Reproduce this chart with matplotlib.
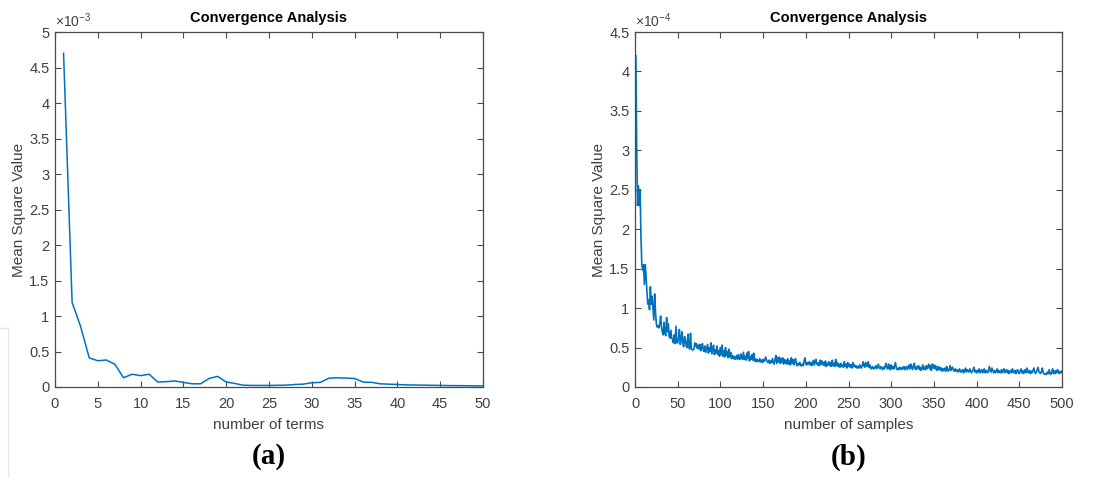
import matplotlib
matplotlib.use("Agg")
import matplotlib.pyplot as plt
from matplotlib.lines import Line2D
from matplotlib.ticker import FuncFormatter

# ---------------------------------------------------------------- data
# (a) mean square value vs number of series terms, values in units of 1e-3
terms = list(range(1, 51))
mse_terms_e3 = [
    4.70, 1.19, 0.85, 0.41, 0.37, 0.38, 0.32, 0.13, 0.18, 0.16,
    0.18, 0.07, 0.075, 0.085, 0.065, 0.045, 0.045, 0.12, 0.15, 0.07,
    0.05, 0.025, 0.022, 0.022, 0.022, 0.024, 0.026, 0.035, 0.04, 0.06,
    0.065, 0.125, 0.13, 0.125, 0.12, 0.07, 0.065, 0.045, 0.04, 0.035,
    0.03, 0.028, 0.026, 0.024, 0.022, 0.02, 0.019, 0.018, 0.016, 0.015,
]

# (b) mean square value vs number of samples, values in units of 1e-4
mse_samples_e4 = [
    4.20, 3.00, 2.30, 2.55, 2.30, 2.50, 1.90, 1.55, 1.48, 1.55, 1.30, 1.55, 1.40, 1.20, 1.05, 1.10, 0.98, 1.27, 1.05, 1.15,
    1.00, 0.85, 1.18, 0.95, 0.80, 0.76, 0.78, 0.75, 0.80, 0.90, 0.76, 0.70, 0.66, 0.82, 0.68, 0.65, 0.88, 0.70, 0.80, 0.64,
    0.62, 0.72, 0.62, 0.60, 0.56, 0.66, 0.55, 0.77, 0.56, 0.56, 0.62, 0.73, 0.54, 0.60, 0.70, 0.55, 0.51, 0.64, 0.60, 0.52,
    0.50, 0.67, 0.51, 0.48, 0.68, 0.49, 0.47, 0.47, 0.48, 0.56, 0.52, 0.55, 0.49, 0.53, 0.48, 0.54, 0.46, 0.50, 0.55, 0.47,
    0.45, 0.52, 0.44, 0.49, 0.54, 0.43, 0.50, 0.45, 0.56, 0.42, 0.48, 0.53, 0.41, 0.47, 0.43, 0.52, 0.41, 0.46, 0.39, 0.50,
    0.41, 0.53, 0.39, 0.46, 0.38, 0.50, 0.40, 0.45, 0.37, 0.48, 0.38, 0.44, 0.36, 0.40, 0.36, 0.39, 0.35, 0.37, 0.40, 0.35,
    0.41, 0.36, 0.35, 0.42, 0.37, 0.35, 0.44, 0.35, 0.39, 0.34, 0.43, 0.36, 0.45, 0.33, 0.39, 0.35, 0.41, 0.34, 0.43, 0.33,
    0.36, 0.32, 0.35, 0.33, 0.32, 0.36, 0.32, 0.34, 0.31, 0.35, 0.32, 0.34, 0.38, 0.34, 0.32, 0.31, 0.34, 0.30, 0.33, 0.31,
    0.36, 0.31, 0.29, 0.35, 0.40, 0.30, 0.37, 0.32, 0.38, 0.30, 0.36, 0.31, 0.37, 0.29, 0.35, 0.30, 0.34, 0.29, 0.36, 0.29,
    0.33, 0.28, 0.37, 0.30, 0.35, 0.28, 0.33, 0.36, 0.29, 0.27, 0.30, 0.28, 0.31, 0.27, 0.27, 0.29, 0.27, 0.33, 0.37, 0.29,
    0.28, 0.31, 0.29, 0.32, 0.28, 0.31, 0.27, 0.30, 0.34, 0.28, 0.32, 0.35, 0.29, 0.28, 0.31, 0.27, 0.34, 0.29, 0.33, 0.28,
    0.31, 0.27, 0.33, 0.26, 0.30, 0.28, 0.32, 0.27, 0.31, 0.26, 0.34, 0.27, 0.30, 0.26, 0.35, 0.27, 0.31, 0.26, 0.29, 0.25,
    0.30, 0.26, 0.28, 0.25, 0.32, 0.26, 0.29, 0.24, 0.31, 0.26, 0.29, 0.25, 0.28, 0.24, 0.31, 0.26, 0.28, 0.25, 0.27, 0.24,
    0.26, 0.24, 0.28, 0.25, 0.24, 0.27, 0.32, 0.27, 0.25, 0.31, 0.28, 0.26, 0.32, 0.25, 0.28, 0.24, 0.23, 0.26, 0.24, 0.23,
    0.25, 0.27, 0.23, 0.26, 0.29, 0.24, 0.23, 0.26, 0.24, 0.22, 0.25, 0.23, 0.27, 0.30, 0.24, 0.23, 0.29, 0.24, 0.22, 0.28,
    0.23, 0.26, 0.23, 0.27, 0.31, 0.24, 0.22, 0.24, 0.22, 0.25, 0.23, 0.22, 0.25, 0.23, 0.26, 0.22, 0.24, 0.26, 0.22, 0.25,
    0.28, 0.23, 0.29, 0.25, 0.22, 0.27, 0.30, 0.23, 0.22, 0.26, 0.24, 0.27, 0.22, 0.25, 0.21, 0.24, 0.28, 0.22, 0.25, 0.22,
    0.27, 0.23, 0.26, 0.29, 0.23, 0.27, 0.21, 0.29, 0.24, 0.28, 0.23, 0.27, 0.22, 0.21, 0.26, 0.22, 0.25, 0.21, 0.24, 0.20,
    0.23, 0.21, 0.24, 0.20, 0.26, 0.21, 0.20, 0.23, 0.27, 0.21, 0.24, 0.25, 0.21, 0.20, 0.23, 0.20, 0.22, 0.19, 0.21, 0.23,
    0.19, 0.21, 0.19, 0.22, 0.18, 0.21, 0.24, 0.19, 0.22, 0.20, 0.19, 0.23, 0.20, 0.18, 0.20, 0.22, 0.25, 0.19, 0.21, 0.18,
    0.21, 0.19, 0.23, 0.18, 0.20, 0.22, 0.18, 0.20, 0.23, 0.18, 0.21, 0.19, 0.18, 0.22, 0.26, 0.20, 0.19, 0.24, 0.21, 0.18,
    0.21, 0.18, 0.20, 0.23, 0.18, 0.21, 0.19, 0.18, 0.22, 0.18, 0.21, 0.23, 0.18, 0.20, 0.22, 0.18, 0.21, 0.17, 0.20, 0.21,
    0.18, 0.23, 0.19, 0.18, 0.21, 0.17, 0.20, 0.22, 0.18, 0.17, 0.20, 0.23, 0.18, 0.21, 0.17, 0.19, 0.22, 0.18, 0.24, 0.19,
    0.18, 0.21, 0.17, 0.20, 0.18, 0.21, 0.24, 0.19, 0.17, 0.19, 0.22, 0.25, 0.19, 0.18, 0.17, 0.20, 0.24, 0.18, 0.17, 0.16,
    0.17, 0.16, 0.19, 0.17, 0.22, 0.17, 0.16, 0.19, 0.23, 0.17, 0.20, 0.17, 0.21, 0.18, 0.22, 0.18, 0.17, 0.20, 0.18, 0.20,
]
samples = list(range(1, len(mse_samples_e4) + 1))

panel_tags = ["(a)", "(b)"]

# ---------------------------------------------------------------- style
LINE_BLUE = "#0072BD"
AX_GRAY = "#4a4a4a"
TXT_GRAY = "#404040"
plt.rcParams["font.family"] = ["Liberation Sans", "DejaVu Sans"]
plt.rcParams["mathtext.fontset"] = "custom"
plt.rcParams["mathtext.rm"] = "Liberation Sans"

W, H = 1102, 478
fig = plt.figure(figsize=(W / 100, H / 100), dpi=100)


def px_axes(left, top, right, bottom):
    """Axes placed by pixel edges."""
    return fig.add_axes([left / W, 1 - bottom / H, (right - left) / W, (bottom - top) / H])


def matlab_style(ax, xlim, ylim, xticks, yticks, scale, exp_txt, xlabel):
    ax.set_xlim(*xlim)
    ax.set_ylim(*ylim)
    ax.set_xticks(xticks)
    ax.set_yticks([t * scale for t in yticks])
    ax.yaxis.set_major_formatter(FuncFormatter(lambda v, _p: f"{v / scale:g}"))
    ax.tick_params(direction="in", length=4, width=0.8, colors=AX_GRAY,
                   labelcolor=TXT_GRAY, labelsize=10.5, top=True, right=True, pad=4)
    ax.tick_params(axis="x", pad=7)
    for sp in ax.spines.values():
        sp.set_color(AX_GRAY)
        sp.set_linewidth(0.9)
    ax.set_title("Convergence Analysis", fontsize=10.5, fontweight="bold", pad=7)
    ax.set_xlabel(xlabel, fontsize=11, color=TXT_GRAY, labelpad=5)
    ax.set_ylabel("Mean Square Value", fontsize=11, color=TXT_GRAY, labelpad=2)
    ax.text(0.0, 1.005, r"$\times10^{" + exp_txt + "}$", transform=ax.transAxes,
            ha="left", va="bottom", fontsize=10, color=TXT_GRAY)


# (a) number of terms
ax1 = px_axes(55, 32, 483, 387)
ax1.plot(terms, [v * 1e-3 for v in mse_terms_e3], color=LINE_BLUE, lw=1.1)
matlab_style(ax1, (0, 50), (0, 5e-3), range(0, 51, 5),
             [0, 0.5, 1, 1.5, 2, 2.5, 3, 3.5, 4, 4.5, 5], 1e-3, "-3", "number of terms")

# (b) number of samples
ax2 = px_axes(635, 32, 1062, 387)
ax2.plot(samples, [v * 1e-4 for v in mse_samples_e4], color=LINE_BLUE, lw=1.2)
matlab_style(ax2, (0, 500), (0, 4.5e-4), range(0, 501, 50),
             [0, 0.5, 1, 1.5, 2, 2.5, 3, 3.5, 4, 4.5], 1e-4, "-4", "number of samples")

# panel tags under each plot
for ax, tag in zip([ax1, ax2], panel_tags):
    box = ax.get_position()
    fig.text(box.x0 + box.width / 2, 1 - 457 / H, tag, ha="center", va="center",
             fontsize=21, fontweight="bold", family=["Liberation Serif", "DejaVu Serif"])

# faint page border on the left
fig.add_artist(Line2D([0, 8 / W], [1 - 328 / H] * 2, color="#e6e6e6", lw=1.0))
fig.add_artist(Line2D([8 / W] * 2, [1 - 328 / H, 0], color="#e6e6e6", lw=1.0))

fig.savefig("out.png", dpi=100)
